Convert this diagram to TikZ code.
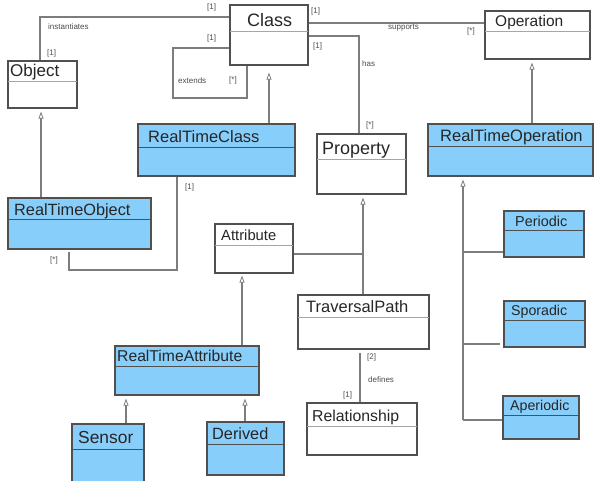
\documentclass[tikz,border=0pt]{standalone}
\usepackage{fontspec}
\setmainfont{Liberation Sans}
\usetikzlibrary{fit,arrows.meta}
\definecolor{rtblue}{RGB}{136,206,250}
\definecolor{boxline}{RGB}{80,80,80}
\definecolor{connline}{RGB}{125,125,125}
\tikzset{
  umlbox/.style={draw=boxline, line width=1.2pt, inner sep=0pt},
  plain/.style={fill=white},
  rt/.style={fill=rtblue},
  plaindiv/.style={draw=black!35, line width=1pt},
  rtdiv/.style={draw=boxline, line width=1pt},
  title/.style={inner sep=0pt, text=black!85},
  lbl/.style={inner sep=0pt, anchor=west, text=black!70, font=\fontsize{8}{9}\selectfont},
  conn/.style={draw=connline, line width=1.1pt},
  gen/.style={conn, -{Triangle[open, length=7pt, width=5pt, line width=0.8pt]}},
}
% box with a name compartment: name, style, x1, y1, x2, y2, divider y
\newcommand\umlbox[7]{%
  \node[umlbox, #2, fit={(#3,#4) (#5,#6)}] (#1) {};
  \draw[#2div] (#3,#7) -- (#5,#7);
}
\newcommand\fs[1]{\fontsize{#1}{#1}\selectfont}
\begin{document}
\begin{tikzpicture}[x=1pt, y=-1pt]
\useasboundingbox (0,0) rectangle (595,481);

% connectors first, boxes on top
\draw[conn] (230,17) -| (40,61);
\draw[conn] (230,48) -- (173,48) -- (173,98) -- (247,98) -- (247,65);
\draw[conn] (308,23) -- (485,23);
\draw[conn] (308,36) -| (359,134);
\draw[conn] (177,176) |- (69,270) -- (69,252);
\coordinate (trunk) at (463,420);
\coordinate (hub) at (363,254);

\umlbox{cls}{plain}{230}{5}{308}{65}{32}
\node[title, anchor=base west, font=\fs{18}] (cls-t) at (247,27) {Class};

\umlbox{obj}{plain}{8}{61}{77}{108}{82}
\node[title, anchor=base west, font=\fs{17}] (obj-t) at (10,77) {Object};

\umlbox{op}{plain}{485}{11}{590}{59}{32}
\node[title, anchor=base west, font=\fs{15.5}] (op-t) at (495,27) {Operation};

\umlbox{rtc}{rt}{138}{124}{295}{176}{148}
\node[title, anchor=base west, font=\fs{16.5}] (rtc-t) at (148,143) {RealTimeClass};

\umlbox{rto}{rt}{8}{198}{151}{249}{220}
\node[title, anchor=base west, font=\fs{16.3}] (rto-t) at (14,216) {RealTimeObject};

\umlbox{prop}{plain}{317}{134}{406}{194}{160}
\node[title, anchor=base west, font=\fs{18}] (prop-t) at (322,155) {Property};

\umlbox{rtop}{rt}{428}{124}{593}{176}{147}
\node[title, anchor=base west, font=\fs{16.5}] (rtop-t) at (440,142) {RealTimeOperation};

\umlbox{attr}{plain}{215}{224}{293}{273}{246}
\node[title, anchor=base west, font=\fs{14.8}] (attr-t) at (221,241) {Attribute};

\umlbox{per}{rt}{504}{211}{584}{257}{231}
\node[title, anchor=base west, font=\fs{14.4}] (per-t) at (515,227) {Periodic};

\umlbox{tp}{plain}{298}{295}{429}{349}{318}
\node[title, anchor=base west, font=\fs{16.5}] (tp-t) at (306,313) {TraversalPath};

\umlbox{spo}{rt}{504}{301}{585}{347}{321}
\node[title, anchor=base west, font=\fs{14.2}] (spo-t) at (511,316) {Sporadic};

\umlbox{rta}{rt}{115}{346}{259}{395}{367}
\node[title, anchor=base west, font=\fs{15.7}] (rta-t) at (117,362) {RealTimeAttribute};

\umlbox{rel}{plain}{307}{403}{417}{455}{426}
\node[title, anchor=base west, font=\fs{15.8}] (rel-t) at (312,421) {Relationship};

\umlbox{aper}{rt}{503}{396}{579}{439}{415}
\node[title, anchor=base west, font=\fs{14.2}] (aper-t) at (510,410) {Aperiodic};

\umlbox{sen}{rt}{72}{424}{144}{484}{449}
\node[title, anchor=base west, font=\fs{17.4}] (sen-t) at (78,443) {Sensor};

\umlbox{der}{rt}{207}{422}{284}{475}{444}
\node[title, anchor=base west, font=\fs{16.3}] (der-t) at (212,439) {Derived};

% generalizations
\draw[gen, shorten >=7pt] (rtc.north -| 269,0) -- (cls.south -| 269,0);
\draw[gen, shorten >=3pt] (rto.north -| 41,0) -- (obj.south -| 41,0);
\draw[gen, shorten >=3pt] (rtop.north -| 532,0) -- (op.south -| 532,0);
\draw[gen, shorten >=3pt] (tp.north -| 363,0) -- (prop.south -| 363,0);
\draw[conn] (attr.east |- hub) -- (hub);
\draw[gen, shorten >=2pt] (rta.north -| 242,0) -- (attr.south -| 242,0);
\draw[gen, shorten >=3pt] (sen.north -| 126,0) -- (rta.south -| 126,0);
\draw[gen, shorten >=3pt] (der.north -| 245,0) -- (rta.south -| 245,0);
\draw[gen, shorten >=3pt] (trunk) -- (rtop.south -| trunk);
\draw[conn] (trunk |- 0,252) -- (per.west |- 0,252);
\draw[conn] (trunk |- 0,344) -- (500,344);
\draw[conn] (trunk) -- (aper.west |- trunk);
\draw[conn, shorten <=3pt] (tp.south -| 360,0) -- (rel.north -| 360,0);

% association labels
\node[lbl] (l-inst1) at (207,7) {[1]};
\node[lbl] (l-inst) at (48,27) {instantiates};
\node[lbl] (l-inst2) at (47,53) {[1]};
\node[lbl] (l-ext1) at (207,38) {[1]};
\node[lbl] (l-ext) at (178,81) {extends};
\node[lbl] (l-ext2) at (229,80) {[*]};
\node[lbl] (l-sup1) at (311,11) {[1]};
\node[lbl] (l-sup) at (388,28) {supports};
\node[lbl] (l-sup2) at (467,31) {[*]};
\node[lbl] (l-has1) at (313,46) {[1]};
\node[lbl] (l-has) at (362,64) {has};
\node[lbl] (l-has2) at (366,125) {[*]};
\node[lbl] (l-rtc) at (185,187) {[1]};
\node[lbl] (l-rto) at (50,260) {[*]};
\node[lbl] (l-def2) at (367,357) {[2]};
\node[lbl] (l-def) at (368,380) {defines};
\node[lbl] (l-def1) at (343,395) {[1]};
\end{tikzpicture}
\end{document}
